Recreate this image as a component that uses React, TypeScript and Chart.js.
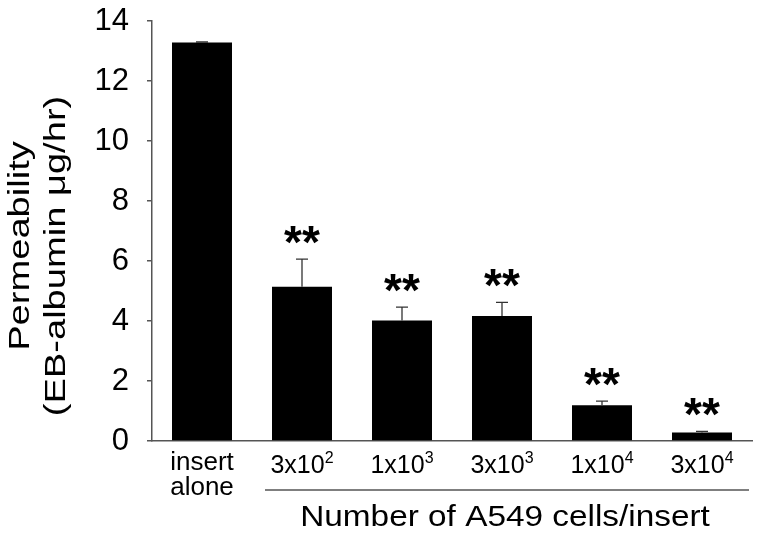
import React, { useEffect, useRef } from "react";
import { Chart, registerables } from "chart.js";

Chart.register(...registerables);

// ---- data ----
const categoryBases = ["insert\nalone", "3x10", "1x10", "3x10", "1x10", "3x10"];
const categoryExponents = ["", "2", "3", "3", "4", "4"];
const permeability = [13.28, 5.14, 4.02, 4.17, 1.19, 0.28];
const errorUp = [0.02, 0.92, 0.44, 0.45, 0.14, 0.04];
const significance = ["", "**", "**", "**", "**", "**"];
const yTitleLines = ["Permeability", "(EB-albumin \u03bcg/hr)"];
const xGroupTitle = "Number of A549 cells/insert";
const yMin = 0;
const yMax = 14;
const yStep = 2;

const FONT = "'Liberation Sans', Arial, Helvetica, sans-serif";
const AXIS_COLOR = "#555";

function drawStretched(ctx: CanvasRenderingContext2D, text: string, x: number, y: number, sx: number, align: CanvasTextAlign) {
  ctx.save();
  ctx.translate(x, y);
  ctx.scale(sx, 1);
  ctx.textAlign = align;
  ctx.fillText(text, 0, 0);
  ctx.restore();
}

const annotatePlugin = {
  id: "annotate",
  afterDatasetsDraw(chart: any) {
    const ctx: CanvasRenderingContext2D = chart.ctx;
    const xs = chart.scales.x;
    const ys = chart.scales.y;
    const bottom = chart.chartArea.bottom;
    ctx.save();

    // error bars + significance marks
    permeability.forEach((v, i) => {
      const cx = xs.getPixelForValue(i);
      const yb = ys.getPixelForValue(v);
      const yt = ys.getPixelForValue(v + errorUp[i]);
      ctx.strokeStyle = "#333";
      ctx.lineWidth = 1.3;
      ctx.beginPath();
      ctx.moveTo(cx, yb);
      ctx.lineTo(cx, yt);
      ctx.moveTo(cx - 6, yt);
      ctx.lineTo(cx + 6, yt);
      ctx.stroke();

      if (significance[i]) {
        ctx.font = `bold 46px ${FONT}`;
        ctx.fillStyle = "#000";
        ctx.textAlign = "center";
        ctx.textBaseline = "alphabetic";
        const m = ctx.measureText(significance[i]);
        const glyphBottom = yt - 15;
        ctx.fillText(significance[i], cx, glyphBottom - m.actualBoundingBoxDescent);
      }
    });

    // category labels
    ctx.fillStyle = "#000";
    ctx.textBaseline = "alphabetic";
    const sx = 1.0;
    categoryBases.forEach((base, i) => {
      const cx = xs.getPixelForValue(i);
      const exp = categoryExponents[i];
      if (!exp) {
        ctx.font = `26px ${FONT}`;
        base.split("\n").forEach((line, k) => {
          drawStretched(ctx, line, cx, bottom + 29 + k * 25, sx, "center");
        });
      } else {
        ctx.font = `25px ${FONT}`;
        const wb = ctx.measureText(base).width * sx;
        ctx.font = `16px ${FONT}`;
        const we = ctx.measureText(exp).width * sx;
        const left = cx - (wb + we) / 2;
        ctx.font = `25px ${FONT}`;
        drawStretched(ctx, base, left, bottom + 32, sx, "left");
        ctx.font = `16px ${FONT}`;
        drawStretched(ctx, exp, left + wb, bottom + 22, sx, "left");
      }
    });

    // group bracket line
    const x1 = xs.getPixelForValue(1) - 37;
    const x2 = xs.getPixelForValue(5) + 47;
    ctx.strokeStyle = AXIS_COLOR;
    ctx.lineWidth = 1.5;
    ctx.beginPath();
    ctx.moveTo(x1, bottom + 49);
    ctx.lineTo(x2, bottom + 49);
    ctx.stroke();

    // group title
    ctx.font = `29px ${FONT}`;
    const gcx = (xs.getPixelForValue(1) + xs.getPixelForValue(5)) / 2 + 3;
    drawStretched(ctx, xGroupTitle, gcx, bottom + 85, 1.15, "center");

    // y axis title (rotated)
    ctx.font = `30px ${FONT}`;
    const titlePos = [
      { x: 29, y: 246 },
      { x: 65, y: 256 },
    ];
    yTitleLines.forEach((line, k) => {
      ctx.save();
      ctx.translate(titlePos[k].x, titlePos[k].y);
      ctx.rotate(-Math.PI / 2);
      ctx.scale(1.27, 1);
      ctx.textAlign = "center";
      ctx.fillText(line, 0, 0);
      ctx.restore();
    });

    ctx.restore();
  },
};

export default function App() {
  const ref = useRef<HTMLCanvasElement | null>(null);

  useEffect(() => {
    if (!ref.current) return;
    const labels = categoryBases.map((b, i) => b.replace("\n", " ") + (categoryExponents[i] ? "^" + categoryExponents[i] : ""));
    const chart = new Chart(ref.current, {
      type: "bar",
      data: {
        labels,
        datasets: [
          {
            data: permeability,
            backgroundColor: "#000",
            borderWidth: 0,
            barPercentage: 0.6,
            categoryPercentage: 1.0,
          },
        ],
      },
      options: {
        responsive: false,
        animation: false,
        layout: { padding: { top: 21, right: 10, left: 0, bottom: 0 } },
        plugins: {
          legend: { display: false },
          tooltip: { enabled: false },
          title: { display: false },
        },
        scales: {
          x: {
            type: "category",
            ticks: { display: false },
            grid: { display: false },
            border: { display: true, color: AXIS_COLOR, width: 1.5 },
            afterFit: (s: any) => {
              s.height = 95;
            },
          },
          y: {
            min: yMin,
            max: yMax,
            ticks: {
              stepSize: yStep,
              padding: 18,
              color: "#000",
              font: { family: FONT, size: 31 },
            },
            grid: {
              drawOnChartArea: false,
              drawTicks: true,
              tickLength: 5,
              color: AXIS_COLOR,
              lineWidth: 1.5,
            },
            border: { display: true, color: AXIS_COLOR, width: 1.5 },
            afterFit: (s: any) => {
              s.width = 152;
              s.paddingTop = 0;
              s.paddingBottom = 0;
            },
          },
        },
      },
      plugins: [annotatePlugin],
    });
    return () => chart.destroy();
  }, []);

  return (
    <div style={{ position: "fixed", left: 0, top: 0, width: 762, height: 536, background: "#fff" }}>
      <canvas ref={ref} width={762} height={536} />
    </div>
  );
}
